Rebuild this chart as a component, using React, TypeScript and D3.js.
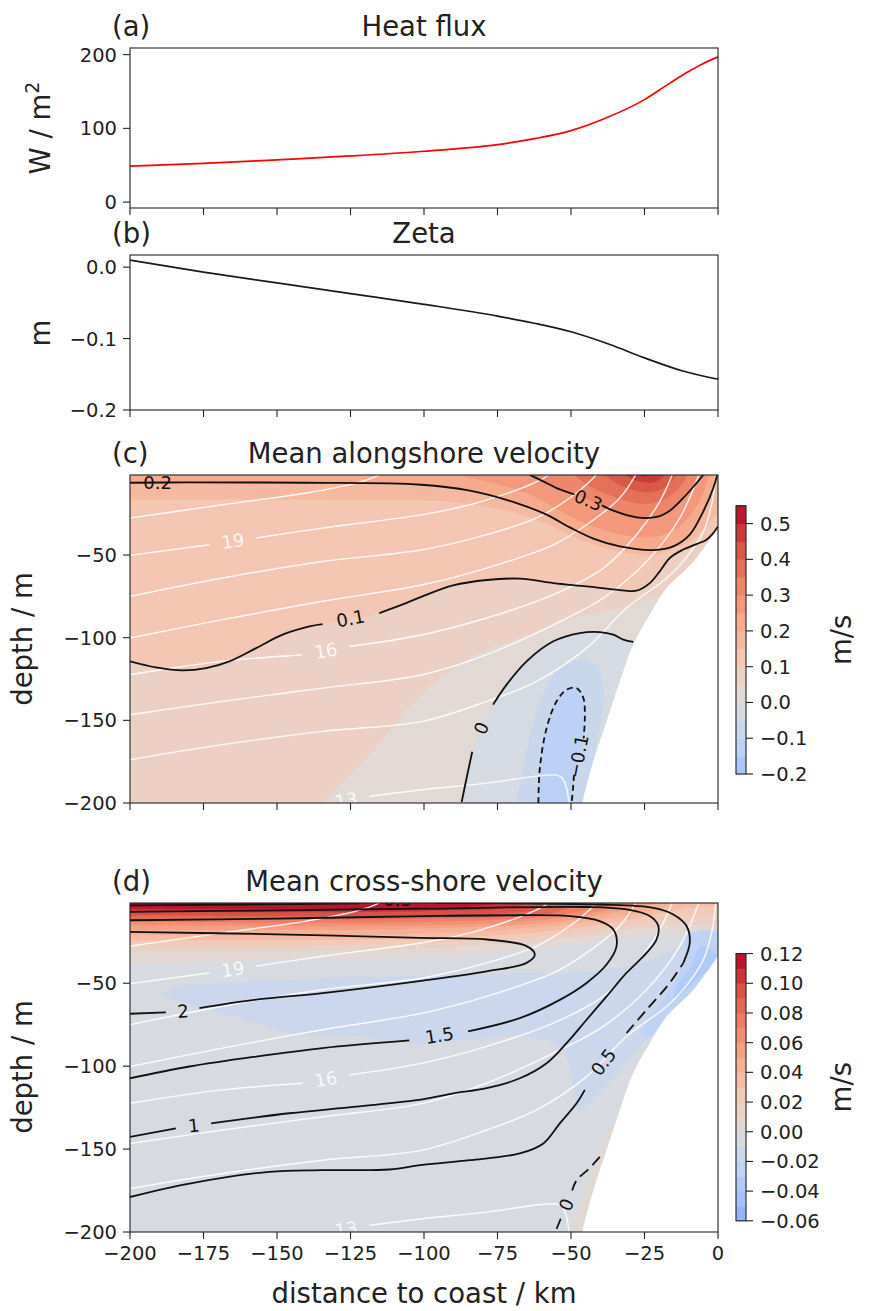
import React from "react";
import * as d3 from "d3";

type P = [number, number];

// ---------- (a) heat flux, (b) zeta ----------
const distTicks = [-200, -175, -150, -125, -100, -75, -50, -25, 0];

const heatDist = [-200, -175, -150, -125, -100, -75, -62.5, -50, -37.5, -25, -16.5, -10, -5, 0];
const heatFlux = [48.7, 52.4, 57.4, 62.6, 69, 77.9, 86, 97, 115, 139, 161, 177, 188, 197];
const heatTicks = [0, 100, 200];

const zetaDist = [-200, -175, -150, -125, -100, -75, -62.5, -50, -37, -25, -12.3, 0];
const zetaVals = [0.0098, -0.007, -0.022, -0.037, -0.052, -0.0685, -0.0785, -0.0905, -0.108, -0.127, -0.145, -0.157];
const zetaTicks = [0, -0.1, -0.2];

const depthTicks = [-50, -100, -150, -200];

// ---------- seafloor (white mask), shared by (c) and (d) ----------
const seafloor: P[] = [
  [0, -33.5], [-8.4, -54], [-17.5, -70], [-23.2, -86], [-28.8, -104], [-33.4, -126.4],
  [-37.9, -150.6], [-42.4, -174.8], [-46, -199], [-46.6, -206],
];

// ---------- temperature contours (white), shared ----------
const temp20: P[] = [[-200, -27.6], [-168.5, -19.6], [-140.1, -12.5], [-123.1, -6.5], [-115.2, -1.4], [-114, 1]];
const temp19a: P[] = [[-200, -50.2], [-173, -43.8]];
const temp19b: P[] = [[-157.1, -39.7], [-134.5, -33.7], [-100.5, -25.6], [-84.4, -19.6], [-73, -13.5], [-64, -7.5], [-58.3, -2.4], [-57, 1]];
const temp18: P[] = [[-200, -75], [-168.5, -63.9], [-134.5, -53.9], [-100.5, -46.8], [-78.7, -37.7], [-61.7, -27.6], [-50.4, -15.5], [-43.6, -5.5], [-40.2, 1]];
const temp17: P[] = [[-200, -100.2], [-168.5, -89.1], [-134.5, -78], [-100.5, -68], [-78.7, -57.9], [-56, -43.8], [-44.7, -31.7], [-33.4, -15.5], [-27.2, 1]];
const temp16a: P[] = [[-200, -122.4], [-168.5, -114.3], [-141.3, -110.3]];
const temp16b: P[] = [[-125.4, -105.3], [-100.5, -98.2], [-78.7, -88.1], [-56, -74], [-39, -57.9], [-27.7, -37.7], [-19.8, -17.6], [-15, 1]];
const temp15: P[] = [[-200, -146.6], [-168.5, -138.5], [-134.5, -130.5], [-100.5, -122.4], [-78.7, -110.3], [-56, -92.2], [-39, -76], [-24.3, -53.9], [-13, -27.6], [-6, 1]];
const temp14: P[] = [[-200, -173.8], [-168.5, -164.7], [-134.5, -156.7], [-100.5, -150.6], [-78.7, -138.5], [-61.7, -126.4], [-44.7, -106.3], [-31.1, -82.1], [-17.5, -64], [-11, -52], [-5, -36], [-2, -18], [-0.6, 1]];
const temp13: P[] = [[-118.6, -196], [-100.5, -192], [-78.7, -188], [-56, -183], [-53.2, -184.5], [-51.5, -191], [-50.6, -202]];
const tempLines = [temp20, temp19a, temp19b, temp18, temp17, temp16a, temp16b, temp15, temp14, temp13];
const tempLabels = [
  { t: "19", p: [-165, -41.5] as P, a: -8 },
  { t: "16", p: [-133.4, -107.8] as P, a: -10 },
  { t: "13", p: [-126.5, -198.3] as P, a: -8 },
];

// ---------- (c) mean alongshore velocity ----------
const alongBounds = [-0.2, -0.15, -0.1, -0.05, 0, 0.05, 0.1, 0.15, 0.2, 0.25, 0.3, 0.35, 0.4, 0.45, 0.5, 0.55];
const alongCbTicks = [-0.2, -0.1, 0, 0.1, 0.2, 0.3, 0.4, 0.5];

const along0p2: P[] = [[-200, -6.3], [-181, -6.1], [-140, -6.3], [-101, -7.5], [-84.4, -11.1], [-68.5, -18.6], [-58.3, -25.6], [-50.4, -33.3], [-42.4, -40.1], [-33.4, -44.8], [-22, -47], [-15.2, -44.8], [-9.6, -37.7], [-5, -23.6], [-1.6, -9.5], [-0.3, -1.6]];
const along0p3a: P[] = [[-64, -1.6], [-60, -5], [-54.9, -9.5], [-48.8, -13.4]];
const along0p3b: P[] = [[-39.5, -20], [-35.6, -23.2], [-27.7, -27.2], [-20.9, -27], [-16.4, -23.2], [-11.8, -15.5], [-7.3, -6.5], [-5, -1.6]];
const along0p1a: P[] = [[-200, -114.3], [-191.2, -118], [-182.1, -119.8], [-174.1, -118.4], [-166.2, -114.3], [-157.1, -106.3], [-148.1, -98.2], [-139, -93.2], [-134.5, -91.8]];
const along0p1b: P[] = [[-115.2, -85.1], [-106.1, -79.1], [-100.5, -75], [-90.1, -68.4], [-78.7, -65.1], [-67.4, -64.3], [-56, -67], [-44.7, -69], [-33.4, -71.2], [-27.7, -71.6], [-23.2, -67], [-19.8, -59.9], [-16.4, -51.8], [-12.2, -47], [-7.3, -43.4], [-3.9, -40.7], [-1.6, -36.7], [0, -32.7]];
const along0a: P[] = [[-87.2, -199.5], [-85.4, -184], [-83.6, -169]];
const along0b: P[] = [[-76.5, -140.5], [-71.9, -128.4], [-65.1, -114.3], [-56, -102.2], [-47, -97.2], [-40.2, -96.6], [-35.6, -98.2], [-32.2, -101.2], [-28.8, -102.6]];
const alongM0p1a: P[] = [[-61.1, -200], [-60.6, -178.9], [-58.3, -154.7], [-54.9, -138.5], [-51.5, -131.5], [-48.1, -130.5], [-45.8, -136.5], [-45.3, -148.6], [-45.7, -161]];
const alongM0p1b: P[] = [[-49, -183], [-49.3, -191], [-49.8, -200]];

const alongGe005: P[] = [[5, -70], [-20, -74], [-28, -80], [-37.9, -84.1], [-44.7, -86.1], [-56, -92.2], [-67.4, -100.2], [-78.7, -107.3], [-90.1, -118.4], [-101, -134.5], [-111.8, -156.7], [-123.1, -178.9], [-134.5, -200], [-137, -206]];
const alongGe015: P[] = [[-206, -16.5], [-130, -16.5], [-100, -17], [-85, -19], [-70, -24], [-60, -30], [-50, -38], [-40, -45], [-30, -49], [-22, -50], [-14, -45], [-8, -40], [-3, -30], [3, -18]];
const alongGe025: P[] = [[-95, 3], [-85, -3], [-75, -7], [-62, -15], [-52, -25], [-42, -33], [-32, -38], [-22, -39], [-15, -35], [-9, -25], [-5, -12], [-2.5, 3]];
const alongGe035: P[] = [[-52, 3], [-44, -8], [-35, -15], [-26, -19], [-19, -17], [-13, -9], [-9, 3]];
const alongGe040: P[] = [[-42, 3], [-33, -8], [-25, -12], [-19, -10], [-15, -4], [-13, 3]];
const alongGe045: P[] = [[-35, 3], [-28, -5], [-21, -5.5], [-16, 3]];
const alongGe050: P[] = [[-30, 3], [-25, -2.5], [-19.5, 3]];
const alongLeM005: P[] = [[-69, -206], [-68.5, -200], [-65.1, -168.8], [-60.6, -138.5], [-53.8, -118.4], [-47, -113.3], [-41.3, -116.4], [-39, -128.4], [-39.6, -148.6], [-41.9, -168.8], [-44.1, -189], [-45.3, -206]];

const alongRegions = [
  { lvl: 0.05, dir: 1, pts: alongGe005, close: [[-210, -206], [-210, 5], [5, 5]] as P[] },
  { lvl: 0.1, dir: 1, pts: [[-206, -113.5] as P, ...along0p1a, ...along0p1b, [3, -30] as P], close: [[5, 5], [-206, 5]] as P[] },
  { lvl: 0.15, dir: 1, pts: alongGe015, close: [[5, 5], [-206, 5]] as P[] },
  { lvl: 0.2, dir: 1, pts: [[-206, -6.3] as P, ...along0p2, [0.5, 3] as P], close: [[5, 5], [-206, 5]] as P[] },
  { lvl: 0.25, dir: 1, pts: alongGe025, close: [] as P[] },
  { lvl: 0.3, dir: 1, pts: [[-66, 3] as P, ...along0p3a, ...along0p3b, [-4.5, 3] as P], close: [] as P[] },
  { lvl: 0.35, dir: 1, pts: alongGe035, close: [] as P[] },
  { lvl: 0.4, dir: 1, pts: alongGe040, close: [] as P[] },
  { lvl: 0.45, dir: 1, pts: alongGe045, close: [] as P[] },
  { lvl: 0.5, dir: 1, pts: alongGe050, close: [] as P[] },
  { lvl: 0, dir: -1, pts: [[-87.8, -206] as P, ...along0a, ...along0b, [-24, -102] as P], close: [[-10, -110], [-10, -206]] as P[] },
  { lvl: -0.05, dir: -1, pts: alongLeM005, close: [] as P[] },
  { lvl: -0.1, dir: -1, pts: [[-61.3, -206] as P, ...alongM0p1a, ...alongM0p1b, [-50, -206] as P], close: [] as P[] },
];
const alongSolid = [along0p2, along0p3a, along0p3b, along0p1a, along0p1b, along0a, along0b];
const alongDashed = [alongM0p1a, alongM0p1b];
const alongLabels = [
  { t: "0.2", p: [-190.6, -6.2] as P, a: 0 },
  { t: "0.3", p: [-44.1, -16.8] as P, a: 22 },
  { t: "0.1", p: [-125, -88.4] as P, a: -11 },
  { t: "0", p: [-80.5, -154.7] as P, a: -67 },
  { t: "\u22120.1", p: [-47.6, -171.8] as P, a: -79 },
];

// ---------- (d) mean cross-shore velocity ----------
const crossBounds = [-0.06, -0.05, -0.04, -0.03, -0.02, -0.01, 0, 0.01, 0.02, 0.03, 0.04, 0.05, 0.06, 0.07, 0.08, 0.09, 0.1, 0.11, 0.12];
const crossCbTicks = [-0.06, -0.04, -0.02, 0, 0.02, 0.04, 0.06, 0.08, 0.1, 0.12];

const cross2a: P[] = [[-200, -68.4], [-187.8, -67.6]];
const cross2b: P[] = [[-176.4, -65], [-157.1, -59.9], [-134.5, -55.9], [-101, -48.5], [-78.7, -42.8], [-65.1, -37.7], [-62.3, -32.7], [-65.1, -27.6], [-78.7, -23.6], [-101.4, -22.6], [-150, -20.5], [-200, -19]];
const cross1p5a: P[] = [[-200, -107.3], [-179.8, -100.2], [-157.1, -94.2], [-134.5, -89.1], [-105, -84.5]];
const cross1p5b: P[] = [[-85, -79], [-67.4, -71], [-53.8, -60], [-44.7, -49.8], [-37.9, -38.7], [-34.5, -27.6], [-35.6, -17.6], [-40.2, -12.5], [-50.4, -9.5], [-70, -9], [-100, -9.5], [-150, -11], [-200, -12]];
const cross1a: P[] = [[-200, -142.6], [-184.4, -137.5]];
const cross1b: P[] = [[-172.4, -134.5], [-145.8, -128.4], [-123.1, -124.4], [-100.5, -120], [-90, -116.4], [-78.7, -113.3], [-67.4, -107.3], [-58.3, -98.2], [-51.5, -86.1], [-44.7, -72], [-37.9, -57.9], [-31.1, -43.8], [-24.3, -31.7], [-20.9, -23.6], [-20.3, -15.5], [-23.2, -9.5], [-31.1, -5.5], [-44.7, -4], [-100, -5], [-150, -6], [-200, -7]];
const cross0p5low: P[] = [[-200, -178.9], [-179.8, -170.8], [-152.6, -163.7], [-134.5, -162.7], [-111.8, -162.3], [-100.5, -159.5], [-84.4, -156.7], [-67.4, -152.6], [-59.4, -146.6], [-53.8, -134.5], [-48.1, -122.4], [-45.3, -114.3]];
const cross0p5mid: P[] = [[-31.1, -80], [-24.3, -66], [-16.4, -49.8], [-11.8, -37.7]];
const cross0p5upA: P[] = [[-11.8, -37.7], [-9.6, -25.6], [-10.7, -15.5], [-15.2, -8.5], [-22, -4.5], [-40, -2.5], [-70, -1.8], [-96, -1.6]];
const cross0p5upB: P[] = [[-122, -1.8], [-160, -2.5], [-200, -3]];
const cross0a: P[] = [[-40.2, -154.7], [-44, -162], [-48.1, -168.8], [-49.6, -175]];
const cross0b: P[] = [[-53.5, -192], [-54.9, -198], [-56, -202]];

const crossGe000: P[] = [[-206, -38], [-200, -38], [-150, -36], [-100, -34], [-75, -32], [-55, -28], [-35, -23], [-20, -21], [-8, -22], [0, -25], [5, -25]];
const crossGe001: P[] = [[-206, -31], [-100, -29], [-55, -24], [-35, -19], [-20, -16], [-8, -15], [5, -16]];
const crossGe002: P[] = [[-206, -27], [-100, -26], [-55, -21], [-35, -16], [-20, -12], [-8, -9], [5, -9]];
const crossGe003: P[] = [[-206, -24], [-100, -23], [-55, -18], [-35, -13], [-20, -8], [-8, -4], [5, -4]];
const crossGe004: P[] = [[-206, -21], [-100, -20], [-55, -15], [-35, -10], [-20, -5], [-10, 3]];
const crossGe005: P[] = [[-206, -18], [-100, -17], [-55, -13], [-35, -7], [-22, -2], [-18, 3]];
const crossGe006: P[] = [[-206, -15], [-100, -15], [-55, -11], [-35, -4], [-28, 3]];
const crossGe007: P[] = [[-206, -13], [-100, -13], [-55, -9], [-38, -2], [-34, 3]];
const crossGe008: P[] = [[-206, -11], [-100, -11], [-55, -7], [-42, 3]];
const crossGe009: P[] = [[-206, -9], [-100, -9], [-60, -5], [-50, 3]];
const crossGe010: P[] = [[-206, -7], [-100, -6.5], [-70, -4], [-57, 3]];
const crossGe011: P[] = [[-206, -5], [-100, -4.5], [-75, -2], [-65, 3]];
const crossBottomPatch: P[] = [[-30, -136], [-36, -136], [-40, -150], [-44, -168], [-47.5, -186], [-49.8, -206], [-30, -206]];
const crossLeM001: P[] = [[-189, -56], [-180, -51], [-157, -49], [-134.5, -47], [-101, -45.5], [-67.4, -43.8], [-50.4, -43.8], [-33.4, -40.7], [-19.8, -33.7], [-10.7, -25.6], [-3.9, -19.6], [2, -17], [2, -40], [-20, -76], [-47, -126.4], [-48.1, -122.4], [-49.3, -110.3], [-51.5, -94.2], [-56, -86.1], [-67.4, -82.1], [-84.4, -84.1], [-101, -86.5], [-123.1, -82], [-145.8, -80], [-157.1, -74], [-168.5, -68], [-187.8, -58]];
const crossLeM002: P[] = [[-11, -22], [-5, -18], [2, -22], [2, -40], [-8, -54], [-17.5, -70], [-23, -82], [-26, -80], [-22, -68], [-17, -56], [-13, -43], [-11.5, -32]];
const crossLeM003: P[] = [[-6, -28], [-2, -30], [0, -36], [-6, -46], [-12, -56], [-15, -60], [-14, -52], [-10, -42], [-8, -34]];

const crossRegions = [
  { lvl: 0, dir: 1, pts: crossGe000, close: [[5, 5], [-206, 5]] as P[] },
  { lvl: 0.01, dir: 1, pts: crossGe001, close: [[5, 5], [-206, 5]] as P[] },
  { lvl: 0.02, dir: 1, pts: crossGe002, close: [[5, 5], [-206, 5]] as P[] },
  { lvl: 0.03, dir: 1, pts: crossGe003, close: [[5, 5], [-206, 5]] as P[] },
  { lvl: 0.04, dir: 1, pts: crossGe004, close: [[-206, 5]] as P[] },
  { lvl: 0.05, dir: 1, pts: crossGe005, close: [[-206, 5]] as P[] },
  { lvl: 0.06, dir: 1, pts: crossGe006, close: [[-206, 5]] as P[] },
  { lvl: 0.07, dir: 1, pts: crossGe007, close: [[-206, 5]] as P[] },
  { lvl: 0.08, dir: 1, pts: crossGe008, close: [[-206, 5]] as P[] },
  { lvl: 0.09, dir: 1, pts: crossGe009, close: [[-206, 5]] as P[] },
  { lvl: 0.1, dir: 1, pts: crossGe010, close: [[-206, 5]] as P[] },
  { lvl: 0.11, dir: 1, pts: crossGe011, close: [[-206, 5]] as P[] },
  { lvl: 0, dir: 1, pts: crossBottomPatch, close: [] as P[] },
  { lvl: -0.01, dir: -1, pts: crossLeM001, close: [] as P[], closed: true },
  { lvl: -0.02, dir: -1, pts: crossLeM002, close: [] as P[], closed: true },
  { lvl: -0.03, dir: -1, pts: crossLeM003, close: [] as P[], closed: true },
];
const crossSolid = [cross2a, cross2b, cross1p5a, cross1p5b, cross1a, cross1b, cross0p5low, cross0p5upA, cross0p5upB];
const crossDashed = [cross0p5mid, cross0a, cross0b];
const crossLabels = [
  { t: "2", p: [-182, -66.8] as P, a: -4 },
  { t: "1.5", p: [-94.8, -81.4] as P, a: -9 },
  { t: "1", p: [-178.3, -135.8] as P, a: -6 },
  { t: "0.5", p: [-39, -97.5] as P, a: -53 },
  { t: "0", p: [-51.6, -183.5] as P, a: -67 },
  { t: "0.5", p: [-109, 0.4] as P, a: 0 },
];

// ---------- layout ----------
const W = 871;
const H = 1311;
const L = 130;
const R = 718;
const FONT = "DejaVu Sans";
const INK = "#222";

const cmapStops = ["#3b4cc0", "#5977e3", "#7b9ff9", "#9ebeff", "#c0d4f5", "#dddcdc", "#f2cbb7", "#f7ac8e", "#ee8468", "#d65244", "#b40426"];
const coolwarm = d3.piecewise(d3.interpolateRgb, cmapStops);

const x = d3.scaleLinear().domain([-200, 0]).range([L, R]);
const yA = d3.scaleLinear().domain([-8, 209]).range([208, 48]);
const yB = d3.scaleLinear().domain([-0.2, 0.017]).range([410, 255]);
const yC = d3.scaleLinear().domain([-200, -1.6]).range([803, 475]);
const yD = d3.scaleLinear().domain([-200, -1.6]).range([1232, 903]);
const cbC = d3.scaleLinear().domain([-0.2, 0.55]).range([774, 505.7]);
const cbD = d3.scaleLinear().domain([-0.06, 0.12]).range([1220.8, 953.6]);

const TICK = 7;
const TICKFS = 19.5;
const LABELFS = 27.5;

function curveLine(y: any, closed = false) {
  return d3
    .line<P>()
    .x((d) => x(d[0]))
    .y((d) => y(d[1]))
    .curve(closed ? d3.curveCatmullRomClosed.alpha(0.5) : d3.curveCatmullRom.alpha(0.5));
}

function regionPath(r: any, y: any) {
  if (r.closed) return curveLine(y, true)(r.pts) as string;
  let d = curveLine(y)(r.pts) as string;
  r.close.forEach((p: P) => (d += `L${x(p[0])},${y(p[1])}`));
  return d + "Z";
}

function Frame({ top, bottom, y, yTicks, fmt, xLabels }: any) {
  return (
    <g>
      <rect x={L} y={top} width={R - L} height={bottom - top} fill="none" stroke={INK} strokeWidth={1.1} />
      {distTicks.map((t) => (
        <g key={"x" + t}>
          <line x1={x(t)} x2={x(t)} y1={bottom} y2={bottom + TICK} stroke={INK} strokeWidth={1.1} />
          {xLabels && (
            <text x={x(t)} y={bottom + TICK + 6 + 14.8} textAnchor="middle" fontSize={TICKFS} fill={INK}>
              {d3.format("d")(t)}
            </text>
          )}
        </g>
      ))}
      {yTicks.map((t: number) => (
        <g key={"y" + t}>
          <line x1={L - TICK} x2={L} y1={y(t)} y2={y(t)} stroke={INK} strokeWidth={1.1} />
          <text x={L - TICK - 6} y={y(t)} dy="0.36em" textAnchor="end" fontSize={TICKFS} fill={INK}>
            {fmt(t)}
          </text>
        </g>
      ))}
    </g>
  );
}

function Colorbar({ scale, bounds, ticks, fmt, vmax }: any) {
  const top = scale.range()[1];
  const bot = scale.range()[0];
  const cx = 736;
  const cw = 10;
  return (
    <g>
      {bounds.slice(0, -1).map((b: number, i: number) => (
        <rect
          key={i}
          x={cx}
          y={scale(bounds[i + 1])}
          width={cw}
          height={scale(b) - scale(bounds[i + 1]) + 0.5}
          fill={coolwarm(0.5 + (b + bounds[i + 1]) / 2 / (2 * vmax))}
        />
      ))}
      <rect x={cx} y={top} width={cw} height={bot - top} fill="none" stroke={INK} strokeWidth={1.1} />
      {ticks.map((t: number) => (
        <g key={t}>
          <line x1={cx + cw} x2={cx + cw + TICK} y1={scale(t)} y2={scale(t)} stroke={INK} strokeWidth={1.1} />
          <text x={cx + cw + TICK + 7} y={scale(t)} dy="0.36em" fontSize={TICKFS} fill={INK}>
            {fmt(t)}
          </text>
        </g>
      ))}
      <text transform={`translate(851,${(top + bot) / 2}) rotate(-90)`} textAnchor="middle" fontSize={LABELFS} fill={INK}>
        m/s
      </text>
    </g>
  );
}

function Field({ id, y, top, bottom, regions, step, vmax, solid, dashed, labels, dash }: any) {
  const line = curveLine(y);
  const maskD = (line(seafloor) as string) + `L${x(5)},${y(-206)}L${x(5)},${y(-33.5)}Z`;
  return (
    <g>
      <defs>
        <clipPath id={id}>
          <rect x={L} y={top} width={R - L} height={bottom - top} />
        </clipPath>
      </defs>
      <g clipPath={`url(#${id})`}>
        <rect x={L} y={top} width={R - L} height={bottom - top} fill={coolwarm(0.5 + (regions[0].lvl - step / 2) / (2 * vmax))} />
        {regions.map((r: any, i: number) => (
          <path key={i} d={regionPath(r, y)} fill={coolwarm(0.5 + (r.lvl + (r.dir * step) / 2) / (2 * vmax))} />
        ))}
        <path d={maskD} fill="#fff" />
        {tempLines.map((t, i) => (
          <path key={"w" + i} d={line(t) as string} fill="none" stroke="#fff" strokeOpacity={0.9} strokeWidth={1.4} />
        ))}
        {tempLabels.map((l, i) => (
          <text
            key={"wl" + i}
            transform={`translate(${x(l.p[0])},${y(l.p[1])}) rotate(${l.a})`}
            textAnchor="middle"
            dy="0.36em"
            fontSize={18}
            fill="#fff"
            fillOpacity={0.85}
          >
            {l.t}
          </text>
        ))}
        {solid.map((s: P[], i: number) => (
          <path key={"s" + i} d={line(s) as string} fill="none" stroke="#111" strokeWidth={1.8} />
        ))}
        {dashed.map((s: P[], i: number) => (
          <path key={"d" + i} d={line(s) as string} fill="none" stroke="#111" strokeWidth={1.8} strokeDasharray={dash} />
        ))}
        {labels.map((l: any, i: number) => (
          <text
            key={"bl" + i}
            transform={`translate(${x(l.p[0])},${y(l.p[1])}) rotate(${l.a})`}
            textAnchor="middle"
            dy="0.36em"
            fontSize={18}
            fill="#111"
          >
            {l.t}
          </text>
        ))}
      </g>
    </g>
  );
}

function Title({ top, letter, title }: any) {
  return (
    <g fontSize={LABELFS} fill={INK}>
      <text x={112} y={top - 12}>
        {letter}
      </text>
      <text x={(L + R) / 2} y={top - 12} textAnchor="middle">
        {title}
      </text>
    </g>
  );
}

export default function App() {
  const heatLine = d3
    .line<number>()
    .x((_, i) => x(heatDist[i]))
    .y((d) => yA(d))
    .curve(d3.curveMonotoneX);
  const zetaLine = d3
    .line<number>()
    .x((_, i) => x(zetaDist[i]))
    .y((d) => yB(d))
    .curve(d3.curveMonotoneX);

  return (
    <svg
      width={W}
      height={H}
      style={{ position: "absolute", left: 0, top: 0, background: "#fff" }}
      fontFamily={FONT}
    >
      <rect width={W} height={H} fill="#fff" />

      {/* (a) */}
      <Title top={48} letter="(a)" title="Heat flux" />
      <path d={heatLine(heatFlux) as string} fill="none" stroke="#ff0000" strokeWidth={1.7} />
      <Frame top={48} bottom={208} y={yA} yTicks={heatTicks} fmt={d3.format("d")} />
      <text transform="translate(50,128) rotate(-90)" textAnchor="middle" fontSize={LABELFS} fill={INK}>
        W / m<tspan dy={-11} fontSize={19}>2</tspan>
      </text>

      {/* (b) */}
      <Title top={255} letter="(b)" title="Zeta" />
      <path d={zetaLine(zetaVals) as string} fill="none" stroke="#1a1a1a" strokeWidth={1.7} />
      <Frame top={255} bottom={410} y={yB} yTicks={zetaTicks} fmt={d3.format(".1f")} />
      <text transform="translate(50,333) rotate(-90)" textAnchor="middle" fontSize={LABELFS} fill={INK}>
        m
      </text>

      {/* (c) */}
      <Title top={475} letter="(c)" title="Mean alongshore velocity" />
      <Field
        id="clipC"
        y={yC}
        top={475}
        bottom={803}
        regions={alongRegions}
        step={0.05}
        vmax={0.55}
        solid={alongSolid}
        dashed={alongDashed}
        labels={alongLabels}
        dash="6,4"
      />
      <Frame top={475} bottom={803} y={yC} yTicks={depthTicks} fmt={d3.format("d")} />
      <text transform="translate(32,639) rotate(-90)" textAnchor="middle" fontSize={LABELFS} fill={INK}>
        depth / m
      </text>
      <Colorbar scale={cbC} bounds={alongBounds} ticks={alongCbTicks} fmt={d3.format(".1f")} vmax={0.55} />

      {/* (d) */}
      <Title top={903} letter="(d)" title="Mean cross-shore velocity" />
      <Field
        id="clipD"
        y={yD}
        top={903}
        bottom={1232}
        regions={crossRegions}
        step={0.01}
        vmax={0.12}
        solid={crossSolid}
        dashed={crossDashed}
        labels={crossLabels}
        dash="11,6"
      />
      <Frame top={903} bottom={1232} y={yD} yTicks={depthTicks} fmt={d3.format("d")} xLabels />
      <text transform="translate(32,1067) rotate(-90)" textAnchor="middle" fontSize={LABELFS} fill={INK}>
        depth / m
      </text>
      <Colorbar scale={cbD} bounds={crossBounds} ticks={crossCbTicks} fmt={d3.format(".2f")} vmax={0.12} />

      <text x={(L + R) / 2} y={1303} textAnchor="middle" fontSize={LABELFS} fill={INK}>
        distance to coast / km
      </text>
    </svg>
  );
}
